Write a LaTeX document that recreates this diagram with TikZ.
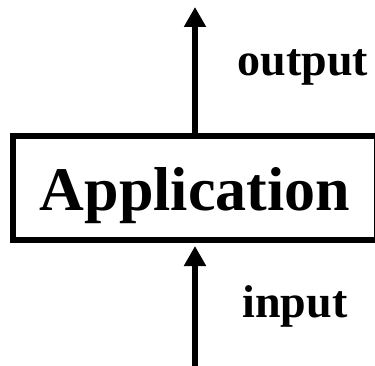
\documentclass[tikz,border=0pt]{standalone}
\usepackage{fontspec}
\setmainfont{Liberation Serif}
\usetikzlibrary{
  arrows.meta,
  positioning,
}
\tikzset{
  appbox/.style={draw, line width=6pt, minimum width=364pt, minimum height=104pt,
    inner sep=0pt, font=\bfseries\fontsize{62}{66}\selectfont,
    text height=56pt, text depth=12pt},
  flow/.style={line width=6pt, -{Triangle[length=20pt,width=21pt]}},
  lbl/.style={font=\bfseries\fontsize{46}{50}\selectfont, anchor=base},
}
\begin{document}
\begin{tikzpicture}[x=1pt,y=1pt]
\useasboundingbox (0,0) rectangle (375,365);
\node[appbox] (app) at (195,177) {Application};
\coordinate (outtip) at (195,358);
\coordinate (intail) at (195,-2);
\draw[flow] (app.north) -- (outtip);
\draw[flow, shorten >=3pt] (intail) -- (app.south);
\node[lbl] (outlbl) at (303,290) {output};
\node[lbl] (inlbl) at (295,48) {input};
\end{tikzpicture}
\end{document}
